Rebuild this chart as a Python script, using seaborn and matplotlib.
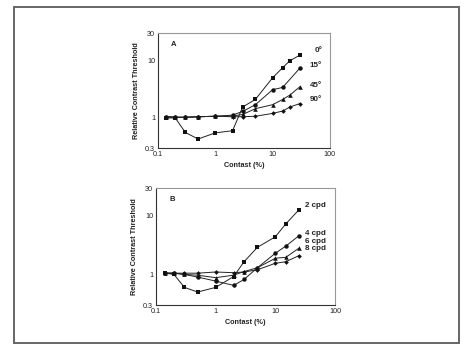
import matplotlib
matplotlib.use("Agg")
import matplotlib.pyplot as plt
import matplotlib.ticker as mticker
import numpy as np
import pandas as pd
import seaborn as sns
from matplotlib.patches import Rectangle

# panel A: orientation
x_a = [0.14, 0.2, 0.3, 0.5, 1, 2, 3, 5, 10, 15, 20, 30]
deg_0 = [1.0, 1.0, 0.56, 0.43, 0.55, 0.6, 1.55, 2.1, 5.0, 7.5, 9.9, 12.4]
deg_15 = [1.05, 1.03, 1.03, 1.05, 1.07, 1.12, 1.3, 1.7, 3.1, 3.4, np.nan, 7.4]
deg_45 = [1.05, 1.03, 1.03, 1.05, 1.07, 1.08, 1.15, 1.45, 1.7, 2.1, 2.5, 3.5]
deg_90 = [1.05, 1.03, 1.02, 1.05, 1.07, 1.05, 1.05, 1.07, 1.2, 1.32, 1.55, 1.78]
labels_a = ["0°", "15°", "45°", "90°"]
label_y_a = [15, 8.1, 3.7, 2.1]

# panel B: spatial frequency
x_b = [0.14, 0.2, 0.3, 0.5, 1, 2, 3, 5, 10, 15, 25]
cpd_2 = [1.05, 1.0, 0.6, 0.5, 0.6, 0.92, 1.65, 2.9, 4.4, 7.3, 12.8]
cpd_4 = [1.05, 1.05, 1.0, 0.9, 0.77, 0.65, 0.82, 1.3, 2.3, 3.05, 4.6]
cpd_6 = [1.05, 1.05, 1.0, 0.97, 0.88, 0.97, 1.12, 1.3, 1.89, 1.96, 2.82]
cpd_8 = [1.05, 1.05, 1.05, 1.05, 1.1, 1.07, 1.1, 1.2, 1.55, 1.65, 2.1]
labels_b = ["2 cpd", "4 cpd", "6 cpd", "8 cpd"]
label_y_b = [15, 5.1, 3.7, 2.8]

x_ticks = [0.1, 1, 10, 100]
y_ticks = [0.3, 1, 10, 30]
markers = ["s", "o", "^", "D"]
marker_sizes = [3.4, 3.2, 3.3, 2.4]

sns.set_theme(style="white")
plt.rcParams["font.family"] = ["Liberation Sans", "DejaVu Sans"]


def long_frame(x, series, names):
    rows = []
    for name, vals in zip(names, series):
        for xv, yv in zip(x, vals):
            if not np.isnan(yv):
                rows.append({"x": xv, "y": yv, "series": name})
    return pd.DataFrame(rows)


def draw_panel(ax, x, series, names, label_y, label_x, label_ha, letter):
    df = long_frame(x, series, names)
    for name, m, ms in zip(names, markers, marker_sizes):
        sub = df[df["series"] == name]
        sns.lineplot(
            data=sub, x="x", y="y", ax=ax, color="#222222",
            linewidth=0.7, marker=m, markersize=ms,
            markeredgewidth=0, markerfacecolor="#111111",
            legend=False, sort=False,
        )
    ax.set_xscale("log")
    ax.set_yscale("log")
    ax.set_xlim(0.1, 100)
    ax.set_ylim(0.3, 30)
    ax.set_xticks(x_ticks)
    ax.set_xticklabels([f"{t:g}" for t in x_ticks])
    ax.set_yticks(y_ticks)
    ax.set_yticklabels([f"{t:g}" for t in y_ticks])
    ax.xaxis.set_minor_locator(mticker.LogLocator(base=10, subs=np.arange(2, 10)))
    ax.yaxis.set_minor_locator(mticker.NullLocator())
    ax.xaxis.set_minor_formatter(mticker.NullFormatter())
    ax.tick_params(which="major", direction="in", length=2.5, width=0.6,
                   labelsize=5.2, pad=2, colors="#333333", labelcolor="#222222")
    ax.tick_params(which="minor", direction="in", length=1.5, width=0.5,
                   colors="#555555")
    ax.tick_params(axis="x", which="both", top=False)
    ax.tick_params(axis="y", which="both", right=False)
    for side, sp in ax.spines.items():
        sp.set_linewidth(0.8)
        sp.set_color("#333333" if side in ("left", "bottom") else "#999999")
    ax.set_xlabel("Contast (%)", fontsize=5.2, fontweight="bold", labelpad=3,
                  color="#222222")
    ax.set_ylabel("Relative Contrast Threshold", fontsize=5.2, fontweight="bold",
                  labelpad=4, color="#222222")
    for txt, yv in zip(names, label_y):
        ax.text(label_x, yv, txt, fontsize=5.8, fontweight="bold", ha=label_ha,
                va="center", color="#222222")
    ax.text(0.09, 0.9, letter, transform=ax.transAxes, fontsize=5.5,
            fontweight="bold", ha="center", va="center", color="#222222")


fig = plt.figure(figsize=(4.75, 3.59), dpi=100)
ax_a = fig.add_axes([0.3326, 0.5877, 0.362, 0.3203])
ax_b = fig.add_axes([0.3284, 0.1504, 0.3768, 0.3259])

draw_panel(ax_a, x_a, [deg_0, deg_15, deg_45, deg_90], labels_a, label_y_a,
           73, "right", "A")
draw_panel(ax_b, x_b, [cpd_2, cpd_4, cpd_6, cpd_8], labels_b, label_y_b,
           31, "left", "B")

# outer frame round the whole figure
frame = Rectangle((14 / 475, 1 - 343 / 359), (459 - 14) / 475, (343 - 7) / 359,
                  transform=fig.transFigure, fill=False, edgecolor="#666666",
                  linewidth=1.4)
fig.patches.append(frame)

fig.savefig("out.png", dpi=100)
